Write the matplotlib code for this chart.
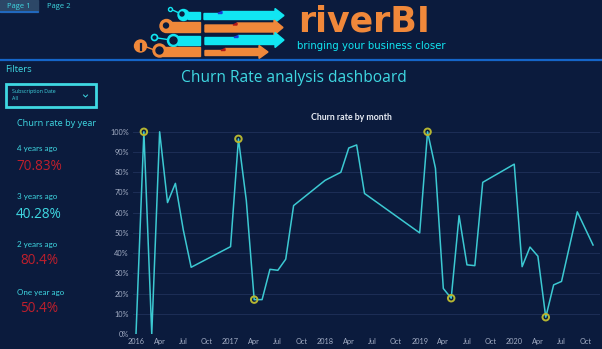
import matplotlib.pyplot as plt
from matplotlib.patches import Rectangle, Circle, Polygon

# Data
months = ["2016-01", "2016-02", "2016-03", "2016-04", "2016-05", "2016-06", "2016-07", "2016-08",
          "2017-01", "2017-02", "2017-03", "2017-04", "2017-05", "2017-06", "2017-07", "2017-08",
          "2017-09", "2018-01", "2018-03", "2018-04", "2018-05", "2018-06", "2019-01", "2019-02",
          "2019-03", "2019-04", "2019-05", "2019-06", "2019-07", "2019-08", "2019-09", "2020-01",
          "2020-02", "2020-03", "2020-04", "2020-05", "2020-06", "2020-07", "2020-09", "2020-11"]
churn = [0, 100, 0, 100, 65, 74.5, 51.5, 33,
         43.2, 96.5, 66, 17, 17, 32, 31.5, 37,
         63.5, 76, 80, 92, 93.5, 69.5, 50, 100,
         82, 22.5, 17.7, 58.5, 34.2, 33.8, 75, 84,
         33.3, 43, 38.5, 8.3, 24.3, 26, 60.4, 44]
highlight = ["2016-02", "2017-02", "2017-04", "2019-02", "2019-05", "2020-05"]

tick_labels = ["2016", "Apr", "Jul", "Oct", "2017", "Apr", "Jul", "Oct", "2018", "Apr", "Jul", "Oct",
               "2019", "Apr", "Jul", "Oct", "2020", "Apr", "Jul", "Oct"]

year_labels = ["4 years ago", "3 years ago", "2 years ago", "One year ago"]
year_values = ["70.83%", "40.28%", "80.4%", "50.4%"]
year_colors = ["#c01f2c", "#3fd8e2", "#c01f2c", "#c01f2c"]


def month_index(m):
    y, mo = m.split("-")
    return (int(y) - 2016) * 12 + int(mo) - 1


x = [month_index(m) for m in months]
hx = [month_index(m) for m in highlight]
hy = [churn[months.index(m)] for m in highlight]

BG = "#0b1b3d"
CYAN = "#3fd8e2"
ORANGE = "#f0883a"
LOGO_CYAN = "#11e6f2"

W, H = 602, 349
fig = plt.figure(figsize=(W / 100, H / 100), dpi=100, facecolor=BG)

# overlay in pixel coordinates
ov = fig.add_axes([0, 0, 1, 1])
ov.set_xlim(0, W)
ov.set_ylim(H, 0)
ov.axis("off")
ov.set_facecolor(BG)

# tabs
ov.add_patch(Rectangle((0, 0), 38, 12, color="#2c4767"))
ov.plot([0, 38], [12, 12], color="#1f6fd0", lw=1.2)
ov.text(19, 6.5, "Page 1", color=CYAN, fontsize=5.5, ha="center", va="center", family="Open Sans")
ov.text(59, 7, "Page 2", color=CYAN, fontsize=5.5, ha="center", va="center", family="Open Sans")

# header separator
ov.plot([0, W], [60, 60], color="#1565c8", lw=1.6)

# logo graphic
def arrow(x0, x1, yc, h, color, step_x, notch):
    hh = h / 2
    pts = [(x0, yc - hh + 2), (step_x, yc - hh + 2), (step_x, yc - hh), (x1 - 9, yc - hh),
           (x1 - 9, yc - hh - 3), (x1, yc), (x1 - 9, yc + hh + 3), (x1 - 9, yc + hh),
           (x0, yc + hh)]
    ov.add_patch(Polygon(pts, closed=True, color=color))
    ov.add_patch(Polygon([(step_x - 4, yc - hh + 2), (step_x, yc - hh), (step_x, yc - hh + 2)],
                         closed=True, color=notch))

arrow(204, 284, 15.5, 8, LOGO_CYAN, 222, "#1a3ad8")
arrow(205, 283, 27.5, 9, ORANGE, 237, "#b01818")
arrow(205, 284, 40, 9, LOGO_CYAN, 238, "#1a3ad8")
arrow(205, 268, 52, 7, ORANGE, 225, "#b01818")

ov.add_patch(Rectangle((188, 12), 12, 7, color=LOGO_CYAN))
ov.add_patch(Circle((183.5, 15), 5.5, color=LOGO_CYAN))
ov.add_patch(Circle((182, 14), 2, color=BG))
ov.add_patch(Circle((170.5, 9.5), 2, fill=False, ec=LOGO_CYAN, lw=1))
ov.plot([172.5, 178], [10, 12.5], color=LOGO_CYAN, lw=1)

ov.add_patch(Rectangle((167, 22), 33, 10, color=ORANGE))
ov.add_patch(Circle((166.5, 26), 6.5, color=ORANGE))
ov.add_patch(Circle((166, 25.5), 2.5, color=BG))

ov.add_patch(Rectangle((178, 36), 22, 9, color=LOGO_CYAN))
ov.add_patch(Circle((173.5, 40.5), 6, color=LOGO_CYAN))
ov.add_patch(Circle((173.5, 40.5), 3.5, color=BG))
ov.add_patch(Circle((154.5, 37.5), 3, fill=False, ec=LOGO_CYAN, lw=1.2))
ov.plot([157.5, 167.5], [38, 39.5], color=LOGO_CYAN, lw=1)

ov.add_patch(Rectangle((160, 47), 40, 9, color=ORANGE))
ov.add_patch(Circle((159.5, 50.5), 6.5, color=ORANGE))
ov.add_patch(Circle((159.5, 50.5), 3.5, color=BG))
ov.add_patch(Circle((140.5, 46), 6, color=ORANGE))
ov.plot([146.5, 153], [47, 49.5], color=ORANGE, lw=1)
ov.plot([140.5, 140.5], [43.5, 50], color=BG, lw=1.6)

ov.text(298, 22, "riverBI", color=ORANGE, fontsize=25, ha="left", va="center", family="DejaVu Sans",
        fontweight="bold")
ov.text(297, 46, "bringing your business closer", color=LOGO_CYAN, fontsize=7.3, ha="left", va="center",
        family="DejaVu Sans")

# dashboard title
ov.text(294, 78, "Churn Rate analysis dashboard", color=CYAN, fontsize=11.2, ha="center", va="center",
        family="Open Sans")

# filters pane
ov.text(5, 70, "Filters", color=CYAN, fontsize=6.8, ha="left", va="center", family="Open Sans")
ov.add_patch(Rectangle((6, 84), 90, 23, fill=False, ec=CYAN, lw=2))
ov.text(12, 91.5, "Subscription Date", color=CYAN, fontsize=3.8, ha="left", va="center", family="Open Sans")
ov.text(12, 98.5, "All", color=CYAN, fontsize=3.8, ha="left", va="center", family="Open Sans")
ov.plot([83.5, 85.5, 87.5], [95, 97, 95], color=CYAN, lw=0.7)

ov.text(17, 124, "Churn rate by year", color=CYAN, fontsize=6.6, ha="left", va="center", family="Open Sans")
label_y = [149, 197, 244, 292]
for i, (lab, val, col) in enumerate(zip(year_labels, year_values, year_colors)):
    ov.text(17, label_y[i], lab, color=CYAN, fontsize=5.8, ha="left", va="center", family="Lato")
    ov.text(16 if i < 2 else 20, label_y[i] + 17, val, color=col, fontsize=9.8, ha="left", va="center",
            family="Open Sans")

# chart title
ov.text(351, 117, "Churn rate by month", color="#e8ecf4", fontsize=6.3, ha="center", va="center",
        family="Lato", fontweight="bold")

# line chart
x0_px, x1_px = 133, 600
y0_px, y1_px = 334, 124
mx0, mstep = 136.0, 7.88
yscale = 2.022
ax = fig.add_axes([x0_px / W, (H - y0_px) / H, (x1_px - x0_px) / W, (y0_px - y1_px) / H])
ax.set_facecolor("none")
ax.set_xlim((x0_px - mx0) / mstep, (x1_px - mx0) / mstep)
ax.set_ylim(0, (y0_px - y1_px) / yscale)
ax.plot(x, churn, color="#3cc9d2", lw=1.1, zorder=3)
ax.scatter(hx, hy, s=22, facecolor="none", edgecolor="#b5b531", linewidth=1.4, zorder=4)

ax.set_yticks(range(0, 101, 10))
ax.set_yticklabels([f"{v}%" for v in range(0, 101, 10)])
ax.set_xticks(range(0, 60, 3))
ax.set_xticklabels(tick_labels)
ax.grid(axis="y", color="#1d2e56", lw=0.7)
ax.set_axisbelow(True)
ax.tick_params(length=0, colors="#a3adc4", labelsize=5.3, pad=3)
for lbl in ax.get_xticklabels() + ax.get_yticklabels():
    lbl.set_family("Lato")
for s in ax.spines.values():
    s.set_visible(False)

fig.savefig("out.png", dpi=100, facecolor=BG)
